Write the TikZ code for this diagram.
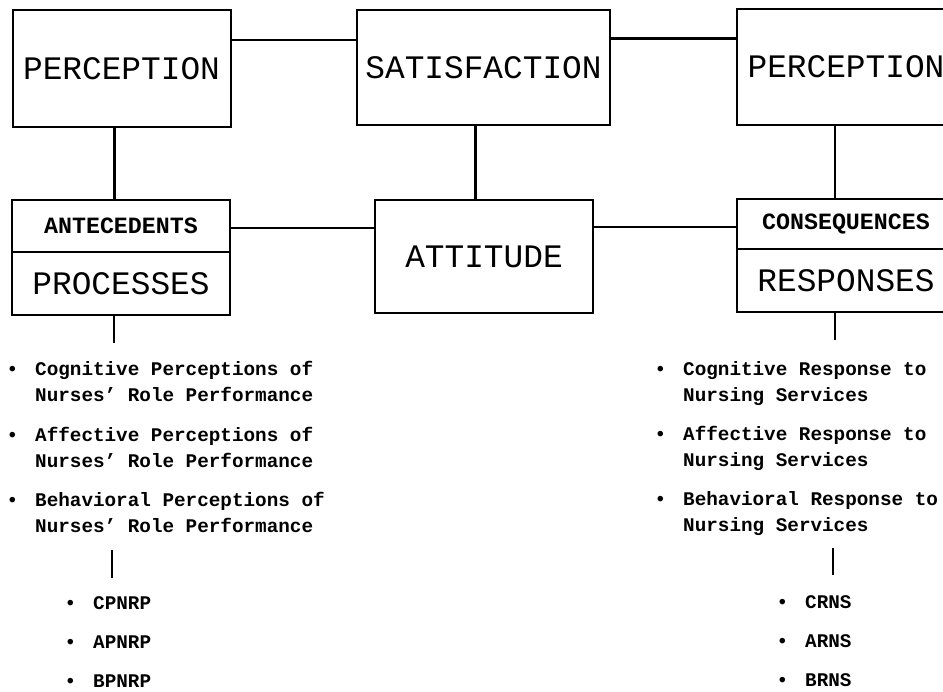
\documentclass[tikz,border=0pt]{standalone}
\usepackage{fontspec}
\setmonofont{Liberation Mono}
\usetikzlibrary{positioning}
\newcommand\dotmark{\spaceskip=11.58pt\relax\llap{\textbullet\hspace{17pt}}}
\begin{document}
\begin{tikzpicture}[x=1pt,y=-1pt]
        % Common styles
        \tikzstyle{box}=[draw, line width=2pt, rectangle, inner sep=0pt, outer sep=0pt, minimum width=218pt, font=\ttfamily\fontsize{32.8}{36}\selectfont]
        \tikzstyle{tag}=[box, font=\ttfamily\bfseries\fontsize{23.3}{26}\selectfont]
        \tikzstyle{link}=[line width=2.6pt]
        \tikzstyle{item}=[anchor=base west, inner sep=0pt, text width=300pt, align=left, font=\ttfamily\bfseries\fontsize{19.3}{26}\selectfont]
        \tikzstyle{subitem}=[anchor=base west, inner sep=0pt, font=\ttfamily\bfseries\fontsize{19.3}{26}\selectfont]

        \useasboundingbox (0,0) rectangle (943,692);
        \clip (0,0) rectangle (943,692);

        % --- Top row ---
        \node[box, minimum height=117pt] (percL) at (121.5,68.5) {PERCEPTION};
        \node[box, minimum width=253pt, minimum height=115pt] (satis) at (483.5,67.5) {SATISFACTION};
        \node[box, minimum height=116pt] (percR) at (846,67) {PERCEPTION};

        % --- Middle row ---
        \node[tag, minimum height=52pt] (antec) at (121,226) {ANTECEDENTS};
        \node[box, minimum height=63pt, below=0pt of antec] (proc) {PROCESSES};
        \node[box, minimum height=113pt] (attit) at (484,256.5) {ATTITUDE};
        \node[tag, minimum height=50pt] (conseq) at (846,224) {CONSEQUENCES};
        \node[box, minimum height=63pt, below=0pt of conseq] (resp) {RESPONSES};

        % Links between boxes
        \draw[link] ([yshift=28.5pt]percL.east) -- ([yshift=28.5pt]percL.east -| satis.west);
        \draw[link] ([yshift=29pt]satis.east) -- ([yshift=29pt]satis.east -| percR.west);
        \draw[link] ([xshift=-7pt]percL.south) -- ([xshift=-7pt]percL.south |- antec.north);
        \draw[link] ([xshift=-8pt]satis.south) -- ([xshift=-8pt]satis.south |- attit.north);
        \draw[link] ([xshift=-11pt]percR.south) -- ([xshift=-11pt]percR.south |- conseq.north);
        \draw[link] ([yshift=-2pt]antec.east) -- ([yshift=-2pt]antec.east -| attit.west);
        \draw[link] ([yshift=-3pt]conseq.west -| attit.east) -- ([yshift=-3pt]conseq.west);

        % --- Left list ---
        \coordinate (stemL) at (114,343);
        \draw[link] (proc.south -| stemL) -- (stemL);
        \node[item] (cpL) at (35,376) {\dotmark Cognitive Perceptions of\\Nurses’ Role Performance};
        \node[item] (apL) at (35,442) {\dotmark Affective Perceptions of\\Nurses’ Role Performance};
        \node[item] (bpL) at (35,507) {\dotmark Behavioral Perceptions of\\Nurses’ Role Performance};
        \coordinate (tickLa) at (112,550);
        \coordinate (tickLb) at (112,578);
        \draw[link] (tickLa) -- (tickLb);
        \node[subitem] (cpnrp) at (93,609) {\dotmark CPNRP};
        \node[subitem] (apnrp) at (93,648) {\dotmark APNRP};
        \node[subitem] (bpnrp) at (93,687) {\dotmark BPNRP};

        % --- Right list ---
        \coordinate (stemR) at (835,340);
        \draw[link] (resp.south -| stemR) -- (stemR);
        \node[item] (crR) at (683,376) {\dotmark Cognitive Response to\\Nursing Services};
        \node[item] (arR) at (683,441) {\dotmark Affective Response to\\Nursing Services};
        \node[item] (brR) at (683,506) {\dotmark Behavioral Response to\\Nursing Services};
        \coordinate (tickRa) at (833,548);
        \coordinate (tickRb) at (833,575);
        \draw[link] (tickRa) -- (tickRb);
        \node[subitem] (crns) at (805,608) {\dotmark CRNS};
        \node[subitem] (arns) at (805,647) {\dotmark ARNS};
        \node[subitem] (brns) at (805,686) {\dotmark BRNS};

\end{tikzpicture}
\end{document}
